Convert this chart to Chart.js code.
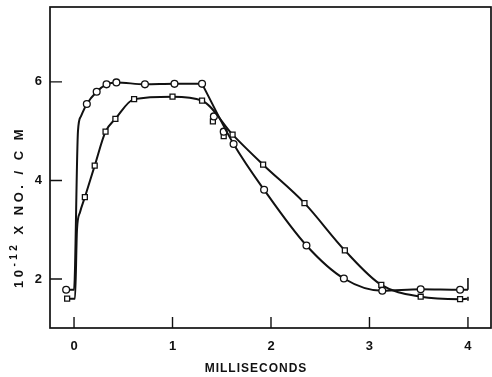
<!DOCTYPE html>
<html>
<head>
<meta charset="utf-8">
<script src="https://cdn.jsdelivr.net/npm/chart.js@4.4.1/dist/chart.umd.min.js"></script>
<style>
  html, body { margin: 0; padding: 0; background: #fff; }
  #wrap { width: 492px; height: 377px; }
</style>
</head>
<body>
<div id="wrap"><canvas id="c1"></canvas></div>
<script>
// =========================
// DATA
// =========================
// circle curve: rise + plateau, then the fall
const circleX = [-0.08, 0.00, 0.04, 0.07, 0.13, 0.23, 0.33, 0.43, 0.72, 1.02, 1.30];
const circleY = [1.78, 1.78, 5.00, 5.30, 5.55, 5.80, 5.95, 5.99, 5.95, 5.96, 5.96];
const circleMark = [1, 0, 0, 0, 1, 1, 1, 1, 1, 1, 1];

const circleFallX = [1.30, 1.62, 1.93, 2.36, 2.74, 3.13, 3.52, 3.92, 4.00];
const circleFallY = [5.96, 4.74, 3.81, 2.68, 2.01, 1.76, 1.79, 1.78, 1.78];
const circleFallMark = [0, 1, 1, 1, 1, 1, 1, 1, 0];

const squareX = [-0.07, 0.01, 0.03, 0.06, 0.11, 0.21, 0.32, 0.42, 0.61, 1.00, 1.30, 1.61, 1.92, 2.34, 2.75, 3.12, 3.52, 3.92, 3.99];
const squareY = [1.60, 1.60, 3.00, 3.35, 3.66, 4.30, 4.99, 5.25, 5.65, 5.70, 5.62, 4.93, 4.32, 3.54, 2.58, 1.88, 1.64, 1.59, 1.60];
const squareMark = [1, 0, 0, 0, 1, 1, 1, 1, 1, 1, 1, 1, 1, 1, 1, 1, 1, 1, 0];

// stray points near the crossing
const extraCircleX = [1.42, 1.52];
const extraCircleY = [5.30, 4.99];
const extraSquareX = [1.41, 1.52];
const extraSquareY = [5.20, 4.90];

// end brackets at 4 ms
const endX = [4.00, 4.00, 4.00, 4.00, 4.00];
const endY = [1.78, 2.02, null, 1.64, 1.56];

const xTicks = [0, 1, 2, 3, 4];
const yTicks = [2, 4, 6];

function pts(xs, ys){
    return xs.map((x, i) => ({ x: x, y: ys[i] }));
}

const FONT = "'Liberation Sans', Arial, sans-serif";

// =========================
// PLUGIN: frame, inward ticks, titles
// =========================
const frame = {
    id: "frame",
    afterDraw(chart){
        const ctx = chart.ctx;
        const a = chart.chartArea;
        const sx = chart.scales.x;
        const sy = chart.scales.y;

        ctx.save();
        ctx.strokeStyle = "#111";
        ctx.lineWidth = 1.7;
        ctx.strokeRect(a.left, a.top, a.right - a.left, a.bottom - a.top);

        ctx.lineWidth = 1.4;
        ctx.beginPath();
        yTicks.forEach(v => {
            let p = sy.getPixelForValue(v);
            ctx.moveTo(a.left, p);
            ctx.lineTo(a.left + 12, p);
        });
        xTicks.forEach(v => {
            let p = sx.getPixelForValue(v);
            ctx.moveTo(p, a.bottom);
            ctx.lineTo(p, a.bottom - 11);
        });
        ctx.stroke();

        // x title
        ctx.fillStyle = "#111";
        ctx.font = "bold 12px " + FONT;
        ctx.letterSpacing = "1px";
        ctx.textAlign = "center";
        ctx.textBaseline = "middle";
        ctx.fillText("MILLISECONDS", 256, 369);

        // y title, drawn piecewise so the exponent sits raised
        ctx.translate(19, 207);
        ctx.rotate(-Math.PI / 2);
        ctx.textAlign = "left";
        ctx.letterSpacing = "3.5px";
        let parts = [
            { t: "10", size: 13, dy: 0 },
            { t: "-12", size: 10, dy: -5 },
            { t: " X NO. / C M", size: 13, dy: 0 }
        ];
        let total = 0;
        parts.forEach(p => {
            ctx.font = "bold " + p.size + "px " + FONT;
            p.w = ctx.measureText(p.t).width;
            total += p.w;
        });
        let x = -total / 2;
        parts.forEach(p => {
            ctx.font = "bold " + p.size + "px " + FONT;
            ctx.fillText(p.t, x, p.dy);
            x += p.w;
        });
        ctx.restore();
    }
};

const lineStyle = {
    borderColor: "#111",
    borderWidth: 2,
    backgroundColor: "#fff",
    pointBorderColor: "#111",
    pointBorderWidth: 1.3,
    pointBackgroundColor: "#fff",
    cubicInterpolationMode: "monotone",
    showLine: true,
    fill: false
};

const ctx1 = document.getElementById("c1").getContext("2d");

new Chart(ctx1, {
    type: "scatter",
    data: {
        datasets: [
            Object.assign({}, lineStyle, {
                label: "circles",
                data: pts(circleX, circleY),
                pointStyle: "circle",
                pointRadius: circleMark.map(m => m ? 3.4 : 0)
            }),
            Object.assign({}, lineStyle, {
                label: "circles fall",
                data: pts(circleFallX, circleFallY),
                pointStyle: "circle",
                pointRadius: circleFallMark.map(m => m ? 3.4 : 0)
            }),
            Object.assign({}, lineStyle, {
                label: "squares",
                data: pts(squareX, squareY),
                pointStyle: "rect",
                pointRadius: squareMark.map(m => m ? 3.5 : 0)
            }),
            Object.assign({}, lineStyle, {
                label: "extra circles",
                data: pts(extraCircleX, extraCircleY),
                showLine: false,
                pointStyle: "circle",
                pointRadius: 3.4
            }),
            Object.assign({}, lineStyle, {
                label: "extra squares",
                data: pts(extraSquareX, extraSquareY),
                showLine: false,
                pointStyle: "rect",
                pointRadius: 3.5
            }),
            {
                label: "ends",
                data: pts(endX, endY),
                showLine: true,
                spanGaps: false,
                borderColor: "#111",
                borderWidth: 1.6,
                pointRadius: 0,
                tension: 0
            }
        ]
    },
    options: {
        responsive: true,
        maintainAspectRatio: false,
        animation: false,
        layout: { autoPadding: false, padding: { top: 7, right: 1, left: 0, bottom: 0 } },
        plugins: {
            legend: { display: false },
            tooltip: { enabled: false }
        },
        scales: {
            x: {
                type: "linear",
                min: -0.244,
                max: 4.234,
                afterBuildTicks: s => { s.ticks = xTicks.map(v => ({ value: v })); },
                afterFit: s => {
                    s.height = 49;
                    s.paddingLeft = 0; s.paddingRight = 0;
                    s.paddingTop = 0; s.paddingBottom = 0;
                },
                grid: { display: false, drawTicks: false },
                border: { display: false },
                ticks: {
                    color: "#111",
                    padding: 11,
                    font: { family: FONT, size: 13, weight: "bold" }
                }
            },
            y: {
                type: "linear",
                min: 1.005,
                max: 7.52,
                afterBuildTicks: s => { s.ticks = yTicks.map(v => ({ value: v })); },
                afterFit: s => {
                    s.width = 50;
                    s.paddingLeft = 0; s.paddingRight = 0;
                    s.paddingTop = 0; s.paddingBottom = 0;
                },
                grid: { display: false, drawTicks: false },
                border: { display: false },
                ticks: {
                    color: "#111",
                    padding: 8,
                    font: { family: FONT, size: 13, weight: "bold" }
                }
            }
        }
    },
    plugins: [frame]
});
</script>
</body>
</html>
